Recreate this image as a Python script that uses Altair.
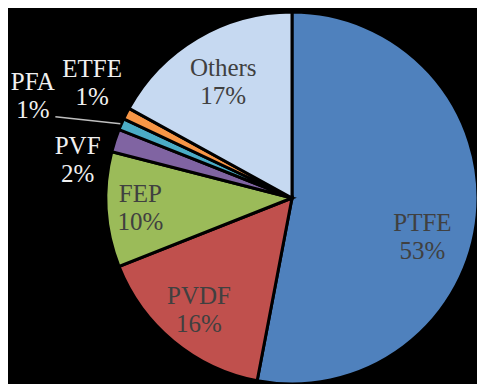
import math
import altair as alt
import pandas as pd

# ---- data ----
materials = ["PTFE", "PVDF", "FEP", "PVF", "PFA", "ETFE", "Others"]
shares = [53, 16, 10, 2, 1, 1, 17]
colors = ["#4F81BD", "#C0504D", "#9BBB59", "#8064A2", "#4BACC6", "#F79646", "#C6D9F1"]

df = pd.DataFrame({
    "material": materials,
    "share": shares,
    "order": list(range(len(materials))),
    "label": [f"{m}\n{s}%" for m, s in zip(materials, shares)],
})

# ---- layout / style ----
CX, CY, R = 284, 190, 186
theta_scale = alt.Scale(domain=[0, 100], range=[0, 2 * math.pi])
FONT = "Liberation Serif"
INSIDE = "#404040"
OUTSIDE = "#f0f0f0"
LH = 28
UP = -LH / 2  # center the two-line block
label_style = {
    "PTFE":   dict(r=131, dx=0, dy=27, color=INSIDE),
    "PVDF":   dict(r=146, dx=0, dy=0, color=INSIDE),
    "FEP":    dict(r=152, dx=0, dy=0, color=INSIDE),
    "PVF":    dict(r=217, dx=-8, dy=29, color=OUTSIDE),
    "PFA":    dict(r=278, dx=-4, dy=8, color=OUTSIDE),
    "ETFE":   dict(r=231, dx=6, dy=-10, color=OUTSIDE),
    "Others": dict(r=135, dx=0, dy=0, color=INSIDE),
}

base = alt.Chart(df).transform_window(
    cum="sum(share)", sort=[alt.SortField("order")]
).transform_calculate(
    start="datum.cum - datum.share",
    mid="datum.cum - datum.share / 2",
)

pie = base.mark_arc(outerRadius=R, stroke="black", strokeWidth=3).encode(
    x=alt.value(CX),
    y=alt.value(CY),
    theta=alt.Theta("start:Q", scale=theta_scale),
    theta2="cum:Q",
    color=alt.Color("material:N", scale=alt.Scale(domain=materials, range=colors), legend=None),
    order=alt.Order("order:Q"),
)

layers = [pie]

# leader line for PFA, starting at slice edge (mid angle)
idx = materials.index("PFA")
cum_before = sum(shares[:idx])
mid_ang = (cum_before + shares[idx] / 2) / 100 * 2 * math.pi
sx = CX + (R + 1) * math.sin(mid_ang)
sy = CY - (R + 1) * math.cos(mid_ang)
leader = pd.DataFrame({"x": [sx], "y": [sy], "x2": [sx - 65], "y2": [sy - 7]})
layers.append(
    alt.Chart(leader).mark_rule(color="#bfbfbf", strokeWidth=1.5).encode(
        x=alt.X("x:Q", scale=None), y=alt.Y("y:Q", scale=None),
        x2="x2:Q", y2="y2:Q",
    )
)

for m in materials:
    s = label_style[m]
    layers.append(
        base.transform_filter(alt.datum.material == m).mark_text(
            radius=s["r"], dx=s["dx"], dy=s["dy"] + UP, font=FONT, fontSize=25,
            lineBreak="\n", lineHeight=LH, color=s["color"],
            align="center", baseline="middle",
        ).encode(
            x=alt.value(CX),
            y=alt.value(CY),
            theta=alt.Theta("mid:Q", scale=theta_scale),
            text="label:N",
        )
    )

chart = alt.layer(*layers).properties(
    width=469, height=376, padding=0, background="black",
    autosize=alt.AutoSizeParams(type="none"),
).configure_view(strokeWidth=0)

chart.save("out.html", embed_options={"renderer": "svg", "actions": False})
